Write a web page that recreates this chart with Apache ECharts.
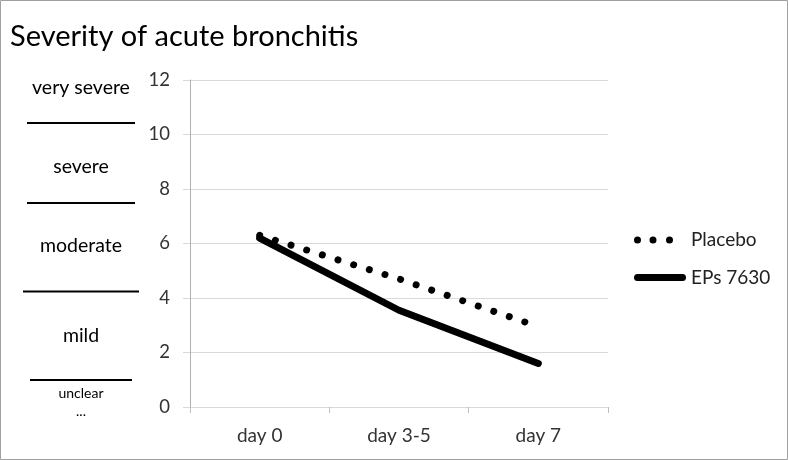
<!DOCTYPE html>
<html>
<head>
<meta charset="utf-8">
<script src="https://cdn.jsdelivr.net/npm/echarts@6/dist/echarts.min.js"></script>
<style>
html,body{margin:0;padding:0;background:#fff;}
#chart{width:788px;height:460px;}
</style>
</head>
<body>
<div id="chart"></div>
<script>
const titleText = 'Severity of acute bronchitis';
const categories = ['day 0', 'day 3-5', 'day 7'];
const placebo = [6.3, 4.7, 2.95];
const eps7630 = [6.2, 3.55, 1.6];
const seriesNames = ['Placebo', 'EPs 7630'];
const yTicks = [0, 2, 4, 6, 8, 10, 12];
const severityLabels = ['very severe', 'severe', 'moderate', 'mild', 'unclear', '...'];

const FONT = 'Lato';
const chart = echarts.init(document.getElementById('chart'), null, {renderer: 'canvas'});

const labelPos = [
  {y: 88, size: 19.5},
  {y: 167, size: 19.5},
  {y: 246, size: 19.5},
  {y: 336, size: 19.5},
  {y: 393, size: 14},
  {y: 411, size: 14}
];
const sepLines = [
  {y: 123, x1: 27, x2: 135},
  {y: 203, x1: 27, x2: 135},
  {y: 291.5, x1: 23, x2: 139},
  {y: 380, x1: 30, x2: 132}
];

const graphics = [
  {type: 'rect', shape: {x: 0.5, y: 0.5, width: 787, height: 459}, style: {fill: 'none', stroke: '#a0a0a0', lineWidth: 1}, silent: true}
];
severityLabels.forEach((t, i) => {
  graphics.push({
    type: 'text', x: 81, y: labelPos[i].y,
    style: {text: t, fill: '#000', font: labelPos[i].size + 'px ' + FONT, textAlign: 'center', textVerticalAlign: 'middle'}
  });
});
sepLines.forEach(l => {
  graphics.push({type: 'line', shape: {x1: l.x1, y1: l.y, x2: l.x2, y2: l.y}, style: {stroke: '#000', lineWidth: 2}});
});

// legend icons (52 x 7 boxes)
const dotsIcon = 'path://M0,3.5a3.5,3.5 0 1,0 7,0a3.5,3.5 0 1,0 -7,0Z' +
  'M15.5,3.5a3.5,3.5 0 1,0 7,0a3.5,3.5 0 1,0 -7,0Z' +
  'M32,3.5a3.5,3.5 0 1,0 7,0a3.5,3.5 0 1,0 -7,0Z M52,7 M52,0';
const barIcon = 'path://M3.5,0L48.5,0A3.5,3.5 0 0,1 48.5,7L3.5,7A3.5,3.5 0 0,1 3.5,0Z';

chart.setOption({
  backgroundColor: '#fff',
  animation: false,
  title: {
    text: titleText, left: 5, top: 17,
    textStyle: {fontFamily: FONT, fontSize: 29, fontWeight: 'normal', color: '#000'}
  },
  graphic: graphics,
  legend: {
    orient: 'vertical', left: 629, top: 225.5, itemWidth: 52, itemHeight: 7, itemGap: 18.5,
    data: [
      {name: seriesNames[0], icon: dotsIcon},
      {name: seriesNames[1], icon: barIcon}
    ],
    itemStyle: {color: '#000', borderWidth: 0},
    textStyle: {fontFamily: FONT, fontSize: 19, color: '#222'}
  },
  grid: {left: 190, right: 180, top: 80, bottom: 53, containLabel: false},
  xAxis: {
    type: 'category', data: categories, boundaryGap: true,
    axisLine: {show: true, lineStyle: {color: '#d9d9d9', width: 1}},
    axisTick: {show: true, length: 6, lineStyle: {color: '#bfbfbf'}},
    axisLabel: {fontFamily: FONT, fontSize: 19, color: '#333', margin: 19}
  },
  yAxis: {
    type: 'value', min: 0, max: 12, interval: 2,
    axisLine: {show: true, lineStyle: {color: '#b0b0b0', width: 1}},
    axisTick: {show: true, length: 7, lineStyle: {color: '#d9d9d9'}},
    splitLine: {show: true, lineStyle: {color: '#d9d9d9', width: 1}},
    axisLabel: {fontFamily: FONT, fontSize: 18.5, color: '#333', margin: 20,
      formatter: v => yTicks.includes(v) ? String(v) : ''}
  },
  series: [
    {
      name: seriesNames[0], type: 'line', data: placebo, symbol: 'none',
      lineStyle: {color: '#000', width: 7, type: [0.01, 16.4], cap: 'round'},
      itemStyle: {color: '#000'}
    },
    {
      name: seriesNames[1], type: 'line', data: eps7630, symbol: 'none',
      lineStyle: {color: '#000', width: 7, type: 'solid', cap: 'round', join: 'round'},
      itemStyle: {color: '#000'}
    }
  ]
});
</script>
</body>
</html>
